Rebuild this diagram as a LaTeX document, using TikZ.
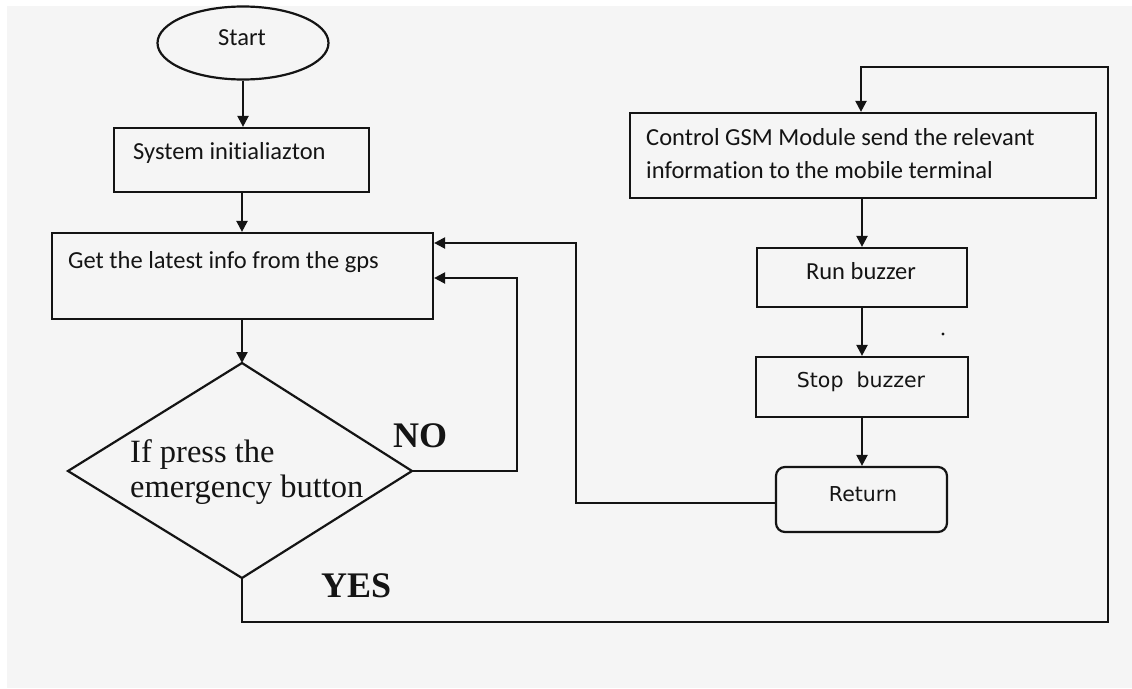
\documentclass[tikz,border=0pt]{standalone}
\usepackage{fontspec}
\setmainfont{Liberation Serif}
\newfontfamily\carlitofont[Ligatures=NoCommon]{Carlito}
\newfontfamily\dejavufont{DejaVu Sans}
\usetikzlibrary{arrows.meta,shapes.geometric}
\definecolor{bg}{HTML}{F5F5F5}
\definecolor{ln}{HTML}{141414}
\tikzset{
  box/.style={draw=ln,line width=2.2pt,rectangle,inner sep=0pt},
  conn/.style={draw=ln,line width=2.2pt},
  arr/.style={conn,-{Triangle[length=11pt,width=11pt]}},
  ctext/.style={inner sep=0pt,anchor=base,font=\carlitofont\fontsize{24.5}{33}\selectfont,text=ln},
  ltext/.style={inner sep=0pt,anchor=base west,font=\carlitofont\fontsize{24.5}{33}\selectfont,text=ln},
  dtext/.style={inner sep=0pt,anchor=base,font=\dejavufont\fontsize{20.5}{24}\selectfont,text=ln},
  stext/.style={inner sep=0pt,anchor=base west,font=\fontsize{32.5}{36}\selectfont,text=ln},
  btext/.style={inner sep=0pt,anchor=base west,font=\bfseries\fontsize{36}{40}\selectfont,text=ln},
}
\begin{document}
\begin{tikzpicture}[x=1pt,y=-1pt]
\useasboundingbox (0,0) rectangle (1132,688);
\fill[white] (0,0) rectangle (1132,688);
\fill[bg] (7,6) rectangle (1132,688);
% nodes
\node[draw=ln,line width=2.2pt,ellipse,minimum width=171pt,minimum height=73pt,inner sep=0pt] (start) at (243,43) {};
\node[ctext] (starttxt) at (242,45) {Start};
\node[box,minimum width=255pt,minimum height=64pt] (sys) at (241.5,160) {};
\node[ltext] (systxt) at (133,159) {System initialiazton};
\node[box,minimum width=381pt,minimum height=86pt] (get) at (242.5,276) {};
\node[ltext] (gettxt) at (68,268) {Get the latest info from the gps};
\coordinate (dt) at (242,363);
\coordinate (dl) at (68,471);
\coordinate (dr) at (412,471);
\coordinate (db) at (242,578);
\draw[conn,line join=miter] (dt) -- (dr) -- (db) -- (dl) -- cycle;
\node[stext] (q1) at (130,462) {If press the};
\node[stext] (q2) at (130,497) {emergency button};
\node[btext] (no) at (393,447) {NO};
\node[btext] (yes) at (321,597) {YES};
\node[box,minimum width=466pt,minimum height=85pt] (gsm) at (863,155.5) {};
\node[ltext] (gsm1) at (646,145) {Control GSM Module send the relevant};
\node[ltext] (gsm2) at (646,178) {information to the mobile terminal};
\node[box,minimum width=210pt,minimum height=59pt] (run) at (862,277.5) {};
\node[ctext] (runtxt) at (861,279) {Run buzzer};
\node[box,minimum width=212pt,minimum height=60pt] (stop) at (862,387) {};
\node[dtext] (stoptxt) at (861,387) {Stop\ \ buzzer};
\node[box,rounded corners=9pt,minimum width=171pt,minimum height=65pt] (ret) at (861.5,499.5) {};
\node[dtext] (rettxt) at (863,501) {Return};
\fill[ln] (943,334) circle (1.6pt);
% connectors
\coordinate (c1) at (517,278);
\coordinate (c2) at (1108,622);
\coordinate (c3) at (576,243);
\coordinate (c4) at (861,67);
\draw[arr] (start.south) -- (start.south |- sys.north);
\draw[arr] ([xshift=0.5pt]sys.south) -- ([xshift=0.5pt]sys.south |- get.north);
\draw[arr] (get.south -| dt) -- (dt);
\draw[arr] (dr) -| (c1) -- (c1 -| get.east);
\draw[arr] (db) |- (c2) |- (c4) -- (c4 |- gsm.north);
\draw[arr] (gsm.south -| run.north) -- (run.north);
\draw[arr] (run.south) -- (stop.north);
\draw[arr] (stop.south) -- (stop.south |- ret.north);
\draw[arr] ([yshift=-3.5pt]ret.west) -| (c3) -- (c3 -| get.east);
\end{tikzpicture}
\end{document}
